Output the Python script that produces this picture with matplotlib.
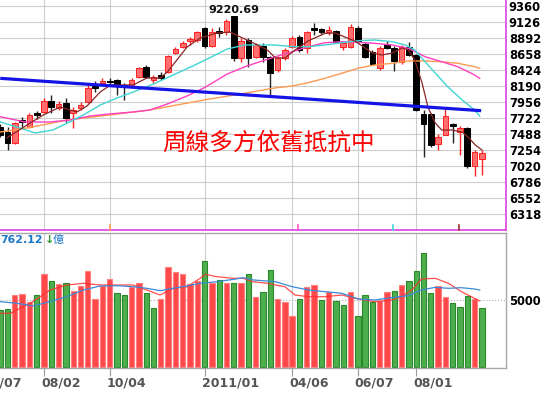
import matplotlib
matplotlib.use('Agg')
import matplotlib.pyplot as plt
import matplotlib.transforms as mtransforms

# weekly candles (index 0 = first visible week)
opens = [7590, 7517, 7356, 7693, 7590, 7795, 7810, 7971, 7868, 7941,
         7795, 7868, 7956, 8190, 8234, 8263, 8278, 8205, 8190, 8322,
         8468, 8278, 8351, 8395, 8673, 8760, 8848, 8863, 9038, 8775,
         8994, 8980, 9214, 8600, 8863, 8614, 8775, 8614, 8424, 8600,
         8760, 8907, 8746, 9038, 9024, 8987, 8994, 8760, 8760, 9038,
         8804, 8687, 8453, 8804, 8746, 8541, 8760, 8643, 7781, 7781,
         7342, 7473, 7634, 7517, 7576, 7020, 7122]
highs = [7640, 7590, 7664, 7737, 7795, 7824, 8014, 8058, 7971, 8014,
         7883, 7956, 8205, 8263, 8307, 8307, 8292, 8234, 8307, 8468,
         8497, 8351, 8395, 8643, 8760, 8848, 8907, 8994, 9053, 9038,
         9053, 9170, 9220.69, 8892, 8892, 8819, 8819, 8629, 8629, 8746,
         8921, 8936, 8994, 9111, 9038, 9067, 9009, 8848, 9097, 9067,
         8833, 8717, 8775, 8848, 8775, 8790, 8833, 8658, 7839, 7795,
         7488, 7883, 7656, 7598, 7590, 7254, 7247]
lows = [7440, 7254, 7342, 7590, 7576, 7707, 7795, 7795, 7839, 7664,
        7576, 7839, 7941, 8102, 8205, 8205, 8058, 7985, 8175, 8307,
        8307, 8234, 8278, 8380, 8658, 8746, 8790, 8833, 8746, 8760,
        8907, 8936, 8556, 8541, 8468, 8600, 8541, 8058, 8395, 8570,
        8746, 8687, 8673, 8936, 8950, 8936, 8819, 8717, 8746, 8819,
        8600, 8497, 8424, 8731, 8409, 8512, 8629, 7824, 7152, 7298,
        7254, 7473, 7356, 7181, 6991, 6874, 6888]
closes = [7480, 7356, 7649, 7664, 7766, 7766, 7971, 7883, 7927, 7722,
          7839, 7912, 8161, 8161, 8263, 8249, 8205, 8175, 8278, 8453,
          8322, 8322, 8307, 8629, 8731, 8819, 8877, 8980, 8775, 8980,
          8965, 9141, 8600, 8848, 8600, 8790, 8614, 8380, 8600, 8717,
          8892, 8717, 8980, 9009, 8980, 9009, 8833, 8819, 9053, 8833,
          8614, 8512, 8746, 8746, 8556, 8760, 8643, 7839, 7634, 7327,
          7444, 7751, 7605, 7576, 7020, 7225, 7210]

# weekly volume (億) and bar colour
volumes = [4254, 4328, 5373, 5420, 4850, 5373, 6965, 6418, 6194, 6293,
           5647, 6070, 7164, 5075, 6070, 6567, 5547, 5398, 5970, 6244,
           5522, 4403, 5050, 7438, 7114, 6940, 6169, 6443, 7910, 6269,
           6493, 6293, 6293, 6293, 6940, 5200, 5622, 7264, 5050, 4851,
           3806, 5075, 5970, 6119, 5025, 5597, 4925, 4602, 5597, 3781,
           5373, 4851, 4950, 5622, 5697, 6144, 6418, 7189, 8483, 5547,
           6045, 5224, 4801, 4453, 5299, 5100, 4428]
vol_up = "ggrrrgrgrgrrrrrrggrrggrrrrrrgrgrgrgrggrrrgrrgrggrgggrrgrgggg rrgggrg".replace(" ", "")

# moving average lines (week index, value)
ma_brown_x = [0.9, 4.1, 5.9, 8.2, 10.5, 11.9, 13.7, 15.1, 18.2, 20.1, 21.9, 22.9,
              24.2, 25.6, 27.4, 29.7, 31.5, 32.9, 34.7, 36.6, 37.7, 39.0, 40.4,
              42.2, 44.5, 45.9, 47.2, 48.6, 50.0, 51.0, 52.3, 53.7, 55.1, 55.9,
              56.8, 57.8, 58.6, 59.6, 60.5, 61.9, 63.3, 64.1, 65.1, 66.0]
ma_brown_y = [7429, 7649, 7766, 7883, 7810, 7898, 8102, 8205, 8205, 8307, 8307, 8395,
              8570, 8760, 8892, 8965, 8980, 8907, 8819, 8717, 8600, 8600, 8717,
              8850, 8960, 8965, 8907, 8848, 8746, 8673, 8643, 8673, 8746, 8717,
              8570, 8234, 7883, 7649, 7546, 7546, 7517, 7444, 7327, 7254]
ma_cyan_x = [0, 2.7, 4.8, 7.2, 9.2, 11.4, 13.7, 16.0, 18.2, 21.0, 23.7, 26.4, 29.2,
             31.1, 33.5, 37.6, 40.0, 42.2, 44.5, 46.8, 49.0, 51.3, 53.7, 55.5,
             56.8, 58.2, 59.6, 61.3, 63.3, 65.0, 65.7]
ma_cyan_y = [7664, 7576, 7503, 7546, 7649, 7766, 7912, 8014, 8102, 8219, 8351, 8483, 8629,
             8731, 8790, 8790, 8765, 8765, 8790, 8823, 8852, 8863, 8838, 8790,
             8717, 8545, 8380, 8180, 7985, 7839, 7751]
ma_pink_x = [0, 3.4, 6.8, 9.6, 12.3, 15.0, 18.2, 20.5, 22.9, 25.6, 27.9, 31.1, 33.8,
             37.6, 40.0, 42.2, 44.5, 46.8, 49.0, 51.3, 53.7, 55.9, 58.2, 60.5,
             62.7, 65.0, 65.7]
ma_pink_y = [7741, 7664, 7664, 7693, 7751, 7781, 7810, 7839, 7927, 8044, 8161, 8365, 8483,
             8614, 8692, 8765, 8823, 8838, 8829, 8814, 8790, 8741, 8619, 8545,
             8472, 8351, 8302]
ma_orange_x = [0, 3.7, 9.2, 15.0, 20.5, 27.9, 32.9, 37.6, 40.0, 42.2, 44.5, 46.8,
               49.0, 51.3, 53.7, 55.9, 58.2, 60.5, 62.7, 65.0, 65.7]
ma_orange_y = [7517, 7576, 7693, 7766, 7839, 7985, 8073, 8161, 8190, 8238, 8303, 8376,
               8449, 8497, 8522, 8556, 8556, 8545, 8522, 8472, 8449]
ma_marks = [15.0, 40.8, 53.8, 62.9]
ma_mark_colors = ['#ff9a50', '#ff50c8', '#40d8d8', '#a03030']

trend_x = [0, 65.9]
trend_y = [8302, 7829]

vma_red_x = [0, 1.4, 2.7, 4.1, 5.5, 6.8, 9.2, 11.4, 13.7, 16.0, 18.2, 20.1, 21.9, 23.7,
             25.6, 27.4, 28.1, 29.7, 31.9, 33.3, 34.6, 36.6, 37.7, 39.0, 40.4, 42.2,
             44.5, 46.8, 49.1, 51.3, 53.6, 55.0, 56.4, 57.7, 59.6, 61.4, 63.2, 65.0, 65.7]
vma_red_y = [4008, 4008, 4381, 4754, 5246, 5746, 6120, 6246, 6120, 6120, 6120, 5746, 5373,
             5873, 5993, 6620, 6918, 6739, 6620, 6620, 6366, 6246, 6120, 5993, 5373, 5246,
             5246, 5373, 5075, 4873, 5000, 5246, 5746, 6567, 6620, 6246, 5620, 5127, 4925]
vma_blue_x = [0, 2.3, 4.5, 6.8, 9.1, 11.4, 13.7, 16.0, 18.2, 20.1, 21.9, 23.7, 25.6,
              27.4, 29.7, 32.0, 33.3, 34.7, 36.5, 37.7, 40.0, 42.2, 44.5, 46.8, 49.1,
              51.3, 53.6, 55.9, 57.7, 59.6, 61.4, 63.2, 65.0, 65.7]
vma_blue_y = [4873, 4754, 4552, 4873, 5246, 5746, 6045, 6067, 5993, 5873, 5694, 5873, 6045,
              6246, 6366, 6545, 6664, 6493, 6418, 6366, 5993, 5746, 5620, 5500, 5075,
              5000, 5172, 5321, 5746, 5948, 5873, 5918, 5821, 5746]

price_ticks = [6318, 6552, 6786, 7020, 7254, 7488, 7722, 7956, 8190, 8424, 8658,
               8892, 9126, 9360]
date_pos = [-2, 6, 15, 28, 40, 49, 57]
date_labels = ['06/07', '08/02', '10/04', '2011/01', '04/06', '06/07', '08/01']

W, H = 550, 393
fig = plt.figure(figsize=(W / 100, H / 100), dpi=100)
ax = fig.add_axes([0, (H - 230) / H, 506 / W, 230 / H])
axv = fig.add_axes([0, (H - 368) / H, 506 / W, 135 / H])
xlim = (-0.03, 69.3)

# ---- price panel ----
n = len(closes)
for i in range(n):
    o, hi, lo, c = opens[i], highs[i], lows[i], closes[i]
    up = c >= o
    wick = '#ff2020' if up else '#222222'
    ax.vlines(i, lo, hi, color=wick, lw=1, zorder=2)
    ax.bar(i, max(abs(c - o), 14), bottom=min(o, c), width=0.78,
           color='#ff6e6e' if up else '#000000',
           edgecolor='#ff2020' if up else '#000000', lw=0.7, zorder=2)

ax.plot(ma_orange_x, ma_orange_y, color='#ff9a50', lw=1, zorder=3)
ax.plot(ma_pink_x, ma_pink_y, color='#ff40c0', lw=1, zorder=3)
ax.plot(ma_cyan_x, ma_cyan_y, color='#40d4d4', lw=1, zorder=3)
ax.plot(ma_brown_x, ma_brown_y, color='#8b2525', lw=0.9, zorder=4)
ax.plot(trend_x, trend_y, color='#1414e6', lw=2.3, zorder=5, solid_capstyle='butt')

ax.annotate('9220.69', xy=(32, max(highs)), xytext=(0, 4), textcoords='offset points',
            ha='center', va='center', fontsize=8, fontweight='bold', color='#111111')
fig.text(268.5 / W, 1 - 143 / H, '周線多方依舊抵抗中', fontsize=17, color='#ff0000',
         family=['Noto Sans CJK TC', 'DejaVu Sans'], ha='center', va='center')

# small markers on the lower border
trans = mtransforms.blended_transform_factory(ax.transData, ax.transAxes)
for xm, cm in zip(ma_marks, ma_mark_colors):
    ax.plot([xm, xm], [0, 0.02], color=cm, lw=1.2, transform=trans, clip_on=False, zorder=6)

ax.set_xlim(*xlim)
ax.set_ylim(9447.75, 9447.75 - 14.625 * 230)
ax.invert_yaxis()
ax.set_ylim(9447.75 - 14.625 * 230, 9447.75)
ax.set_xticks(date_pos[1:])
ax.set_yticks(price_ticks)
ax.yaxis.tick_right()
ax.tick_params(axis='x', length=0, labelbottom=False)
ax.tick_params(axis='y', length=0, pad=2, labelsize=8.3)
for t in ax.get_yticklabels():
    t.set_fontweight('bold')
ax.grid(True, color='#cccccc', lw=0.8)
ax.set_axisbelow(True)
for s in ['top', 'left']:
    ax.spines[s].set_visible(False)
for s in ['right', 'bottom']:
    ax.spines[s].set_color('#e040e0')
    ax.spines[s].set_linewidth(1.2)

# ---- volume panel ----
for i in range(n):
    g = vol_up[i] == 'g'
    axv.bar(i, volumes[i], width=0.73,
            color='#4cae4c' if g else '#ff4848',
            edgecolor='#2a8a2a' if g else '#ff8080', lw=0.8, zorder=2)
axv.plot(vma_red_x, vma_red_y, color='#ff3030', lw=0.9, alpha=0.85, zorder=3)
axv.plot(vma_blue_x, vma_blue_y, color='#3a8ad8', lw=0.9, zorder=3)

axv.set_xlim(*xlim)
axv.set_ylim(-75, 10000)
axv.set_xticks(date_pos[1:])
axv.set_yticks([5000])
axv.yaxis.tick_right()
axv.tick_params(axis='x', direction='out', length=6, color='#999999', labelbottom=False)
axv.tick_params(axis='y', length=0, pad=2, labelsize=8.3)
for t in axv.get_yticklabels():
    t.set_fontweight('bold')
axv.grid(True, axis='x', color='#cccccc', lw=0.8)
axv.grid(True, axis='y', color='#b0b0b0', lw=0.8, ls=':')
axv.set_axisbelow(True)
axv.spines['left'].set_visible(False)
for s in ['right', 'bottom', 'top']:
    axv.spines[s].set_color('#a8a8a8')
    axv.spines[s].set_linewidth(1)

fig.text(0, 1 - 240 / H, '762.12', fontsize=7.9, fontweight='bold', color='#1a78c8',
         ha='left', va='center')
fig.text(45 / W, 1 - 240 / H, '↓', fontsize=8, fontweight='bold', color='#2a9a2a',
         ha='left', va='center')
fig.text(53 / W, 1 - 240 / H, '億', fontsize=8, color='#1a78c8',
         family=['Noto Sans CJK TC', 'DejaVu Sans'], ha='left', va='center')

# date labels, left-aligned just before each gridline
lab_trans = mtransforms.offset_copy(
    mtransforms.blended_transform_factory(axv.transData, fig.transFigure),
    fig=fig, x=-3, y=0, units='dots')
for xp, lab in zip(date_pos, date_labels):
    axv.text(xp, 1 - 383 / H, lab, transform=lab_trans, ha='left', va='center',
             fontsize=9, fontweight='bold', color='#555555', clip_on=False)

fig.savefig('out.png', dpi=100)
